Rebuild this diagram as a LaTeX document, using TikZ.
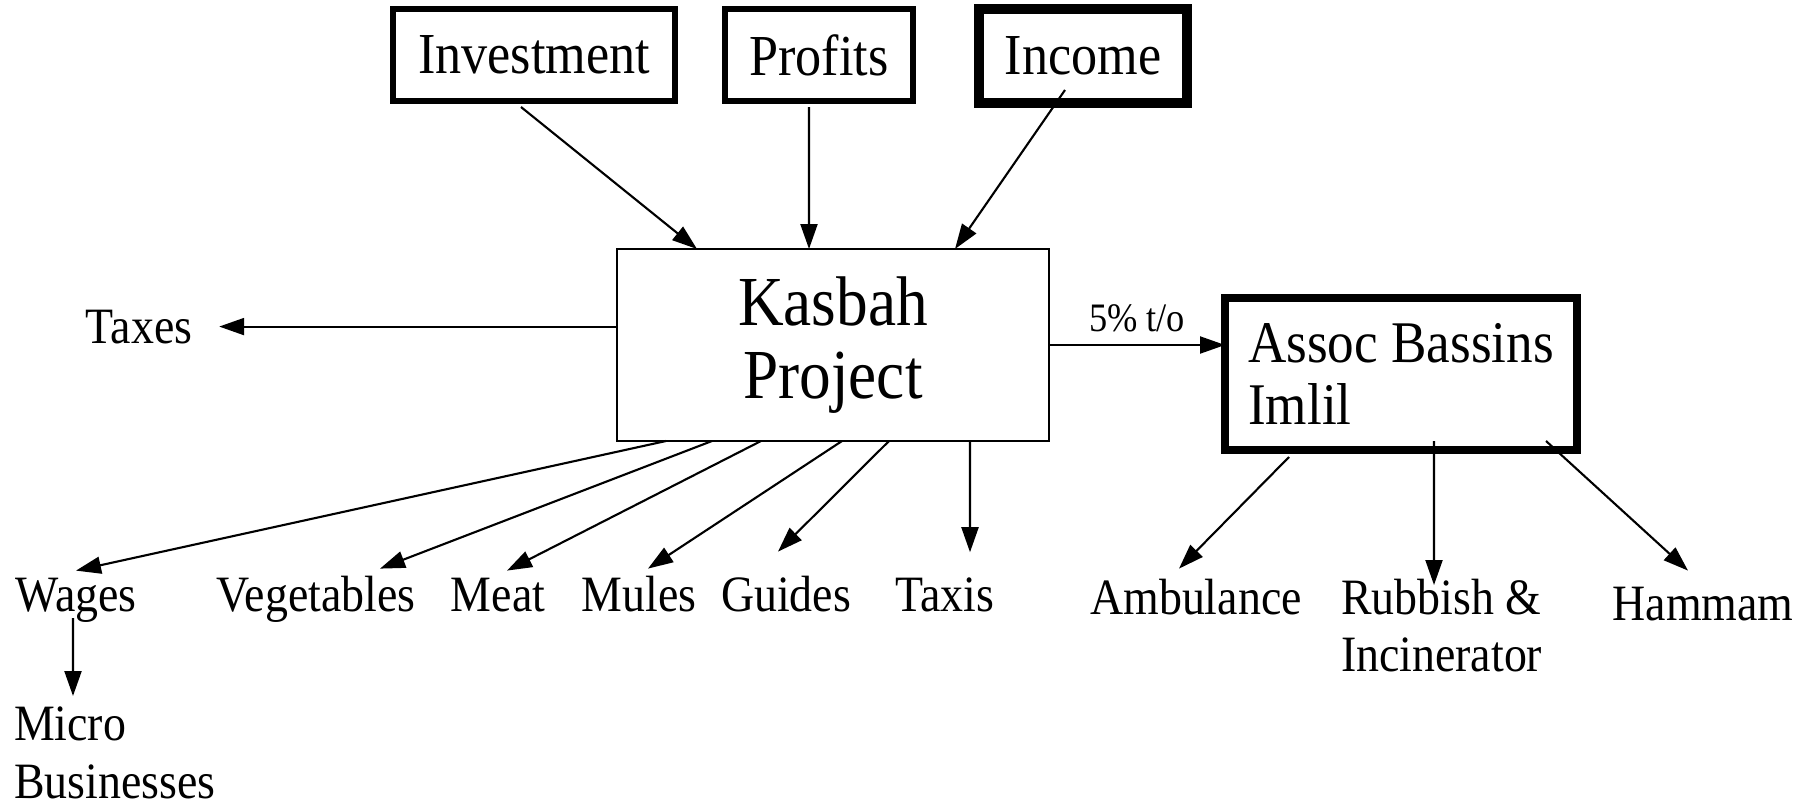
\documentclass[tikz,border=0pt]{standalone}
\usepackage{fontspec}
\setmainfont{Liberation Serif}[FakeStretch=0.9]
\usetikzlibrary{arrows.meta, calc}
\tikzset{
	srcbox/.style={rectangle, draw, line width=1.8pt, outer sep=0pt, minimum height=9.2mm, inner sep=0pt, font=\fontsize{16.5}{19}\selectfont},
	item/.style={inner sep=2pt, outer sep=0pt, font=\fontsize{14.5}{16.3}\selectfont},
	line/.style={draw, line width=0.6pt, -{Triangle[length=2.5mm, width=1.7mm]}}
}

\begin{document}
\begin{tikzpicture}
	\useasboundingbox (0,0) rectangle (18.16,-8.05);
	% Where the money comes from
	\node[srcbox, minimum width=2.82cm] (invest) at (5.34,-0.55) {Investment};
	\node[srcbox, minimum width=1.88cm] (profits) at (8.19,-0.55) {Profits};
	\node[srcbox, minimum width=2.08cm, minimum height=9.4mm, line width=2.8pt] (income) at (10.83,-0.56) {Income};
	
	% The project and the association
	\node[draw, rectangle, line width=0.65pt, outer sep=0pt, minimum width=4.32cm, minimum height=1.92cm, align=center, font=\fontsize{20}{20.8}\selectfont] (kasbah) at (8.33,-3.45) {Kasbah\\Project};
	\node[draw, rectangle, line width=2.5pt, outer sep=0pt, minimum width=3.52cm, minimum height=1.52cm, align=left, font=\fontsize{16.8}{17.6}\selectfont] (assoc) at (14.01,-3.74) {Assoc Bassins\\Imlil};
	
	% Where the money goes
	\node[item, anchor=base] (taxes) at (1.39,-3.43) {Taxes};
	\node[item, anchor=base] (wages) at (0.76,-6.11) {Wages};
	\node[item, anchor=base] (veg) at (3.16,-6.11) {Vegetables};
	\node[item, anchor=base] (meat) at (4.98,-6.11) {Meat};
	\node[item, anchor=base] (mules) at (6.39,-6.11) {Mules};
	\node[item, anchor=base] (guides) at (7.86,-6.11) {Guides};
	\node[item, anchor=base] (taxis) at (9.45,-6.11) {Taxis};
	\node[item, anchor=north west, align=left] (micro) at (0.07,-7.00) {Micro\\Businesses};
	\node[item, anchor=base] (amb) at (11.96,-6.14) {Ambulance};
	\node[item, anchor=north west, align=left] (rubbish) at (13.34,-5.72) {Rubbish \&\\Incinerator};
	\node[item, anchor=base] (hammam) at (17.03,-6.20) {Hammam};
	
	% Flows into the project
	\path[line] ($(invest.south)+(-0.13,-0.06)$) -- ($(kasbah.north west)+(0.80,0)$);
	\path[line] ($(profits.south)+(-0.10,-0.06)$) -- ($(kasbah.north west)+(1.92,0)$);
	\path[line] ($(income.south)+(-0.18,0.13)$) -- ($(kasbah.north west)+(3.38,0)$);
	
	% Flows out of the project
	\path[line] (kasbah.west |- taxes.east) -- ($(taxes.east)+(0.2,0)$);
	\path[line] (kasbah.east) -- (kasbah.east -| assoc.west) node[midway, above, font=\fontsize{11.5}{13}\selectfont] (share) {5\% t/o};
	\path[line] ($(kasbah.south west)+(0.49,0)$) -- (wages.north);
	\path[line] ($(kasbah.south west)+(0.95,0)$) -- ($(veg.north)+(0.64,0)$);
	\path[line] ($(kasbah.south west)+(1.44,0)$) -- ($(meat.north)+(0.09,0)$);
	\path[line] ($(kasbah.south west)+(2.25,0)$) -- ($(mules.north)+(0.09,0)$);
	\path[line] ($(kasbah.south west)+(2.72,0)$) -- ($(guides.north)+(-0.08,0.17)$);
	\path[line] ($(kasbah.south west)+(3.53,0)$) -- ($(taxis.north)+(0.25,0.18)$);
	\path[line] ($(wages.south)+(-0.03,0.11)$) -- ($(micro.north west)+(0.66,0.04)$);
	
	% Flows out of the association
	\path[line] ($(assoc.south west)+(0.64,-0.07)$) -- ($(amb.north)+(-0.17,0.03)$);
	\path[line] ($(assoc.south west)+(2.09,0.09)$) -- ($(rubbish.north west)+(1.00,-0.13)$);
	\path[line] ($(assoc.south west)+(3.21,0.09)$) -- ($(hammam.north)+(-0.15,0.09)$);
\end{tikzpicture}
\end{document}
